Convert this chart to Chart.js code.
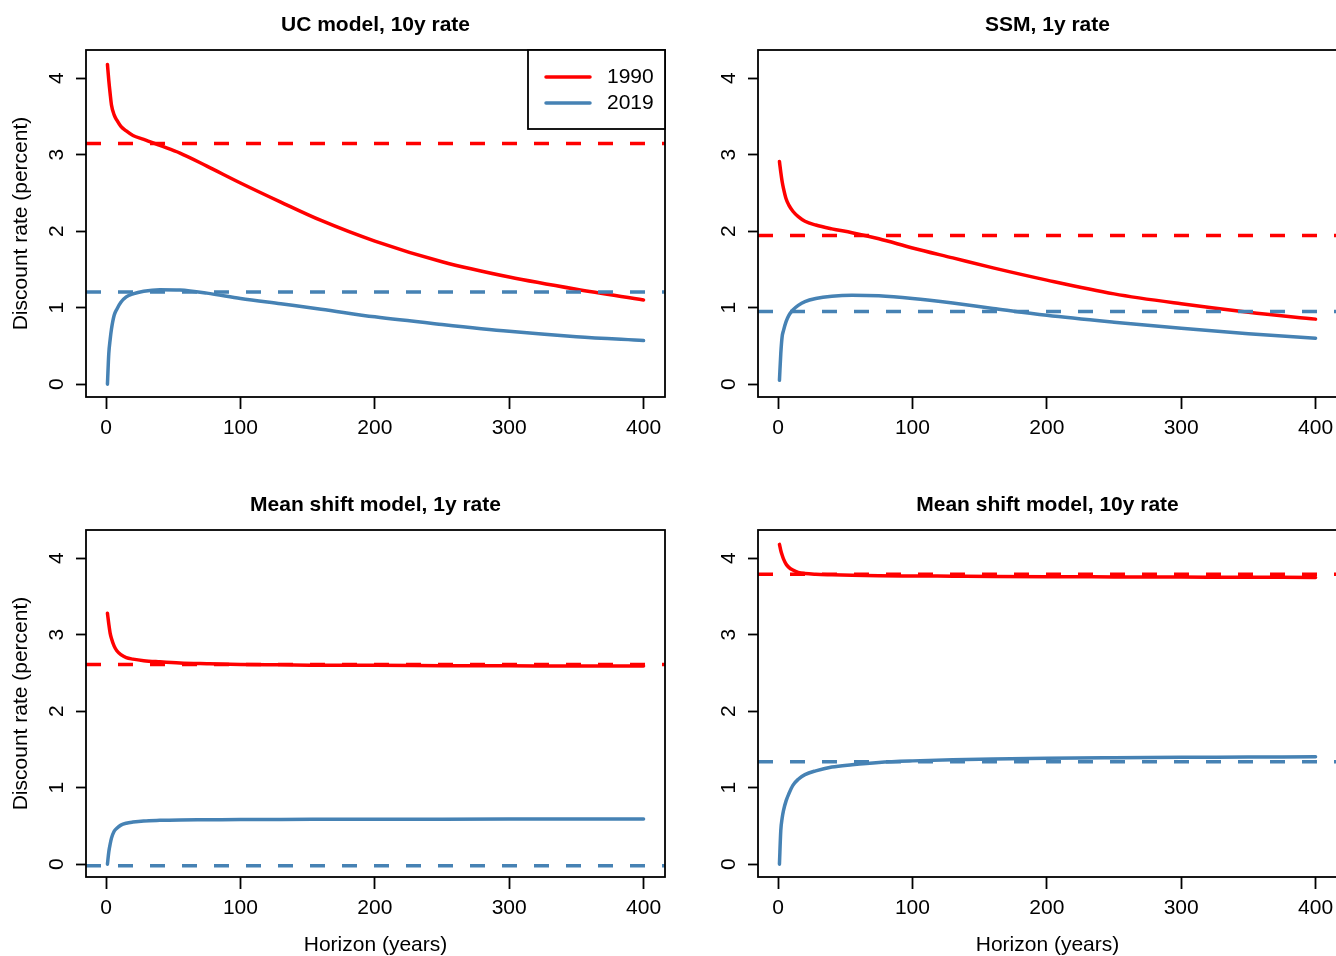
<!DOCTYPE html>
<html>
<head>
<meta charset="utf-8">
<script src="https://cdn.jsdelivr.net/npm/chart.js@4/dist/chart.umd.min.js"></script>
<style>
  html, body { margin: 0; padding: 0; background: #fff; overflow: hidden; }
  #wrap { position: relative; width: 1336px; height: 956px; overflow: hidden; }
  canvas { position: absolute; }
</style>
</head>
<body>
<div id="wrap">
  <canvas id="p1" width="680" height="478" style="left:-4px;top:0px"></canvas>
  <canvas id="p2" width="680" height="478" style="left:668px;top:0px"></canvas>
  <canvas id="p3" width="680" height="478" style="left:-4px;top:480px"></canvas>
  <canvas id="p4" width="680" height="478" style="left:668px;top:480px"></canvas>
</div>
<script>
// horizon grid (years) and tick labels
const horizons = [1, 2, 3, 4, 6, 8, 11, 15, 20, 28, 40, 55, 75, 100, 130, 160, 200, 250, 300, 350, 400];
const xTicks = [0, 100, 200, 300, 400];
const yTicks = [0, 1, 2, 3, 4];
const seriesLabels = ['1990', '2019'];
const panelTitles = ['UC model, 10y rate', 'SSM, 1y rate', 'Mean shift model, 1y rate', 'Mean shift model, 10y rate'];

// discount rate curves (percent)
const uc10y1990 = [4.18, 3.97, 3.80, 3.65, 3.52, 3.45, 3.37, 3.31, 3.25, 3.20, 3.12, 3.02, 2.85, 2.63, 2.38, 2.14, 1.87, 1.60, 1.40, 1.24, 1.10];
const uc10y2019 = [0.00, 0.40, 0.58, 0.72, 0.90, 0.98, 1.07, 1.14, 1.18, 1.215, 1.235, 1.23, 1.19, 1.12, 1.05, 0.98, 0.88, 0.78, 0.69, 0.62, 0.57];
const ssm1y1990 = [2.91, 2.77, 2.65, 2.56, 2.42, 2.34, 2.26, 2.19, 2.13, 2.08, 2.03, 1.98, 1.90, 1.78, 1.65, 1.52, 1.36, 1.18, 1.05, 0.94, 0.85];
const ssm1y2019 = [0.05, 0.40, 0.62, 0.70, 0.82, 0.90, 0.97, 1.03, 1.08, 1.12, 1.15, 1.163, 1.155, 1.12, 1.06, 0.99, 0.90, 0.81, 0.73, 0.66, 0.60];
const ms1y1990 = [3.28, 3.14, 3.02, 2.95, 2.85, 2.79, 2.74, 2.70, 2.68, 2.66, 2.645, 2.63, 2.62, 2.61, 2.605, 2.60, 2.60, 2.595, 2.593, 2.59, 2.59];
const ms1y2019 = [0.00, 0.16, 0.26, 0.34, 0.43, 0.47, 0.51, 0.535, 0.55, 0.565, 0.573, 0.578, 0.58, 0.583, 0.585, 0.586, 0.587, 0.588, 0.589, 0.59, 0.59];
const ms10y1990 = [4.18, 4.10, 4.04, 3.99, 3.92, 3.88, 3.845, 3.815, 3.80, 3.79, 3.783, 3.776, 3.77, 3.767, 3.764, 3.761, 3.758, 3.755, 3.752, 3.75, 3.748];
const ms10y2019 = [0.00, 0.44, 0.60, 0.70, 0.83, 0.92, 1.03, 1.11, 1.17, 1.22, 1.27, 1.30, 1.33, 1.35, 1.365, 1.375, 1.385, 1.392, 1.397, 1.40, 1.403];

// horizontal reference levels [1990, 2019]
const ucLevels = [3.146, 1.203];
const ssmLevels = [1.943, 0.95];
const ms1yLevels = [2.61, -0.022];
const ms10yLevels = [3.79, 1.34];

// axis limits, R style (4% extension)
const xMin = horizons[0] - 0.04 * (horizons[horizons.length - 1] - horizons[0]);
const xMax = horizons[horizons.length - 1] + 0.04 * (horizons[horizons.length - 1] - horizons[0]);
const yMin = -0.04 * 4.2;
const yMax = 4.2 + 0.04 * 4.2;

const RED = '#FF0000';
const BLUE = '#4682B4';
const FONT = '"Liberation Sans", Arial, Helvetica, sans-serif';

// box, title and legend like base R graphics
const rFrame = {
    id: 'rFrame',
    afterDatasetsDraw(chart, args, opts) {
        const { ctx, chartArea: a } = chart;
        ctx.save();
        ctx.strokeStyle = '#000';
        ctx.lineWidth = 1.8;
        ctx.strokeRect(a.left, a.top, a.right - a.left, a.bottom - a.top);

        ctx.fillStyle = '#000';
        ctx.font = 'bold 21px ' + FONT;
        ctx.textAlign = 'center';
        ctx.textBaseline = 'middle';
        ctx.fillText(opts.title, (a.left + a.right) / 2, 25);

        if (opts.legend) {
            const w = 137, h = 79;
            const x0 = a.right - w, y0 = a.top;
            ctx.fillStyle = '#fff';
            ctx.fillRect(x0, y0, w, h);
            ctx.strokeRect(x0, y0, w, h);
            ctx.font = '21px ' + FONT;
            ctx.textAlign = 'left';
            seriesLabels.forEach((lab, i) => {
                const d = chart.data.datasets.find(ds => ds.label === lab);
                const y = y0 + 27 + i * 26;
                ctx.strokeStyle = d.borderColor;
                ctx.lineWidth = 3.5;
                ctx.lineCap = 'round';
                ctx.beginPath();
                ctx.moveTo(x0 + 18, y);
                ctx.lineTo(x0 + 62, y);
                ctx.stroke();
                ctx.fillStyle = '#000';
                ctx.fillText(lab, x0 + 79, y);
            });
        }
        ctx.restore();
    }
};

function curve(values, label, color) {
    return {
        label: label,
        data: horizons.map((h, i) => ({ x: h, y: values[i] })),
        borderColor: color,
        borderWidth: 3.5,
        borderCapStyle: 'round',
        borderJoinStyle: 'round',
        cubicInterpolationMode: 'monotone',
        pointRadius: 0,
        fill: false
    };
}

function level(value, color) {
    return {
        label: '',
        data: [{ x: xMin, y: value }, { x: xMax, y: value }],
        borderColor: color,
        borderWidth: 3.5,
        borderDash: [15, 17],
        pointRadius: 0,
        fill: false
    };
}

function makePanel(id, title, v1990, v2019, levels, leftCol, bottomRow, legend) {
    const ctx = document.getElementById(id).getContext('2d');
    return new Chart(ctx, {
        type: 'line',
        data: {
            // drawn from last to first: curves first, dashed levels on top
            datasets: [
                level(levels[1], BLUE),
                level(levels[0], RED),
                curve(v2019, seriesLabels[1], BLUE),
                curve(v1990, seriesLabels[0], RED)
            ]
        },
        options: {
            responsive: false,
            animation: false,
            devicePixelRatio: 1,
            layout: { padding: { top: 50, right: 11, left: 0, bottom: 0 } },
            scales: {
                x: {
                    type: 'linear',
                    min: xMin,
                    max: xMax,
                    afterBuildTicks: s => { s.ticks = xTicks.map(v => ({ value: v })); },
                    afterFit: s => { s.height = 81; },
                    grid: { drawOnChartArea: false, drawTicks: true, tickLength: 12, tickColor: '#000', tickWidth: 1.8 },
                    border: { display: false },
                    ticks: { color: '#000', font: { size: 21, family: FONT }, padding: 7, maxRotation: 0, autoSkip: false },
                    title: { display: bottomRow, text: 'Horizon (years)', color: '#000', font: { size: 21, family: FONT }, padding: { top: 0, bottom: 0 } }
                },
                y: {
                    type: 'linear',
                    min: yMin,
                    max: yMax,
                    afterBuildTicks: s => { s.ticks = yTicks.map(v => ({ value: v })); },
                    afterFit: s => { s.width = 90; },
                    grid: { drawOnChartArea: false, drawTicks: true, tickLength: 10, tickColor: '#000', tickWidth: 1.8 },
                    border: { display: false },
                    ticks: { color: '#000', font: { size: 21, family: FONT }, padding: 13, minRotation: 90, maxRotation: 90, crossAlign: 'center', autoSkip: false },
                    title: { display: leftCol, text: 'Discount rate (percent)', color: '#000', font: { size: 21, family: FONT }, padding: { top: 13, bottom: 0 } }
                }
            },
            plugins: {
                legend: { display: false },
                tooltip: { enabled: false },
                rFrame: { title: title, legend: legend }
            }
        },
        plugins: [rFrame]
    });
}

makePanel('p1', panelTitles[0], uc10y1990, uc10y2019, ucLevels, true, false, true);
makePanel('p2', panelTitles[1], ssm1y1990, ssm1y2019, ssmLevels, false, false, false);
makePanel('p3', panelTitles[2], ms1y1990, ms1y2019, ms1yLevels, true, true, false);
makePanel('p4', panelTitles[3], ms10y1990, ms10y2019, ms10yLevels, false, true, false);
</script>
</body>
</html>
